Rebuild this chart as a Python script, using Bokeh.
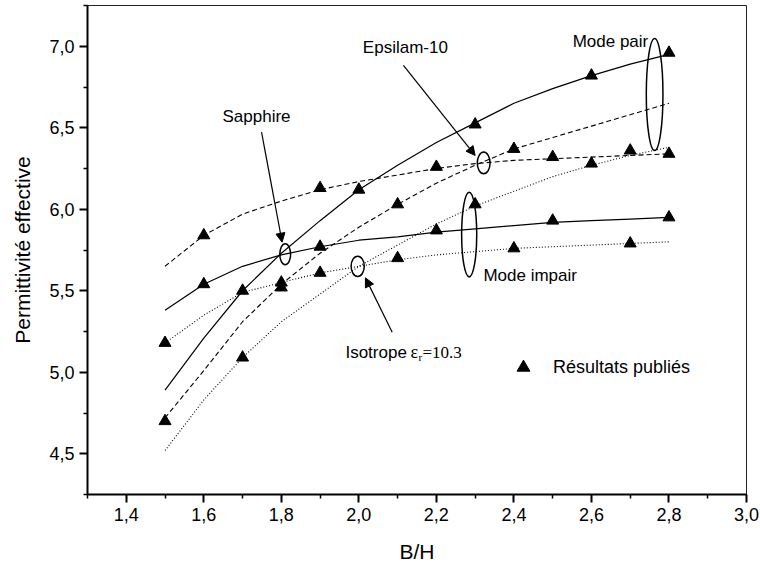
from bokeh.plotting import figure
from bokeh.models import (Range1d, FixedTicker, CustomJSTickFormatter, Arrow,
                          NormalHead, Label, Legend, LegendItem)
from bokeh.embed import file_html
from bokeh.resources import INLINE

# ---- data -------------------------------------------------------------
bh = [1.5, 1.6, 1.7, 1.8, 1.9, 2.0, 2.1, 2.2, 2.3, 2.4, 2.5, 2.6, 2.7, 2.8]

sapphire_pair = [4.89, 5.21, 5.50, 5.73, 5.93, 6.12, 6.27, 6.41, 6.53, 6.65, 6.74, 6.82, 6.89, 6.95]
sapphire_impair = [5.38, 5.54, 5.65, 5.72, 5.77, 5.81, 5.83, 5.86, 5.88, 5.90, 5.92, 5.93, 5.94, 5.95]
epsilam_pair = [4.72, 5.01, 5.31, 5.54, 5.73, 5.89, 6.03, 6.16, 6.27, 6.37, 6.44, 6.51, 6.58, 6.65]
epsilam_impair = [5.65, 5.84, 5.97, 6.05, 6.12, 6.17, 6.21, 6.25, 6.28, 6.30, 6.31, 6.32, 6.33, 6.34]
isotrope_pair = [4.52, 4.83, 5.09, 5.31, 5.48, 5.65, 5.78, 5.91, 6.02, 6.11, 6.20, 6.27, 6.33, 6.38]
isotrope_impair = [5.18, 5.35, 5.49, 5.55, 5.61, 5.65, 5.69, 5.72, 5.74, 5.76, 5.77, 5.78, 5.79, 5.80]

pub_bh = [1.5, 1.5, 1.6, 1.6, 1.7, 1.7, 1.8, 1.8, 1.9, 1.9, 1.9, 2.0, 2.1, 2.1, 2.2,
          2.2, 2.3, 2.3, 2.4, 2.4, 2.5, 2.5, 2.6, 2.6, 2.7, 2.7, 2.8, 2.8, 2.8]
pub_eps = [5.18, 4.70, 5.84, 5.54, 5.50, 5.09, 5.55, 5.52, 6.13, 5.77, 5.61, 6.12, 6.03, 5.70, 6.26,
           5.87, 6.52, 6.03, 6.37, 5.76, 6.32, 5.93, 6.82, 6.28, 6.36, 5.79, 6.96, 6.34, 5.95]

x_major = [1.4, 1.6, 1.8, 2.0, 2.2, 2.4, 2.6, 2.8, 3.0]
x_minor = [1.3, 1.5, 1.7, 1.9, 2.1, 2.3, 2.5, 2.7, 2.9]
y_major = [4.5, 5.0, 5.5, 6.0, 6.5, 7.0]
y_minor = [4.25, 4.75, 5.25, 5.75, 6.25, 6.75, 7.25]

FONT = "Liberation Sans"

# ---- figure -----------------------------------------------------------
p = figure(width=760, height=568, x_range=Range1d(1.3, 3.0), y_range=Range1d(4.25, 7.25),
           output_backend="svg", toolbar_location=None,
           min_border_left=87, min_border_right=14, min_border_top=5, min_border_bottom=74)
p.xgrid.visible = False
p.ygrid.visible = False
p.outline_line_color = "#222222"
p.outline_line_width = 1
p.background_fill_color = "white"
p.border_fill_color = "white"

fmt = CustomJSTickFormatter(code="return tick.toFixed(1).replace('.', ',');")
p.xaxis.ticker = FixedTicker(ticks=x_major, minor_ticks=x_minor)
p.yaxis.ticker = FixedTicker(ticks=y_major, minor_ticks=y_minor)
for ax in (p.xaxis, p.yaxis):
    ax.formatter = fmt
    ax.axis_line_width = 2
    ax.major_tick_line_width = 2
    ax.minor_tick_line_width = 1.5
    ax.major_tick_in = 0
    ax.minor_tick_in = 0
    ax.major_tick_out = 8
    ax.minor_tick_out = 4
    ax.major_label_text_font = FONT
    ax.major_label_text_font_size = "18px"
    ax.major_label_text_color = "black"
    ax.axis_label_text_font = FONT
    ax.axis_label_text_font_size = "21px"
    ax.axis_label_text_font_style = "normal"
    ax.axis_label_text_color = "black"
p.xaxis.axis_label = "B/H"
p.yaxis.axis_label = "Permittivité effective"
p.xaxis.major_label_standoff = 5
p.yaxis.major_label_standoff = 5
p.xaxis.axis_label_standoff = 16
p.yaxis.axis_label_standoff = 12

# ---- simulated curves -------------------------------------------------
solid = dict(line_color="black", line_width=1.2)
dashed = dict(line_color="black", line_width=1.1, line_dash="5 3")
dotted = dict(line_color="black", line_width=1.1, line_dash="1 2")

p.line(bh, sapphire_pair, **solid)
p.line(bh, sapphire_impair, **solid)
p.line(bh, epsilam_pair, **dashed)
p.line(bh, epsilam_impair, **dashed)
p.line(bh, isotrope_pair, **dotted)
p.line(bh, isotrope_impair, **dotted)

# ---- published results ------------------------------------------------
r_pub = p.scatter(pub_bh, pub_eps, marker="triangle", size=12,
                  fill_color="black", line_color="black")

legend = Legend(items=[LegendItem(label="Résultats publiés", renderers=[r_pub])],
                location=(420, 111), glyph_width=32, glyph_height=32, label_standoff=14,
                padding=0, margin=0, border_line_color=None, background_fill_alpha=0,
                label_text_font=FONT, label_text_font_size="18px", label_text_color="black")
p.add_layout(legend)

# ---- ellipses marking crossings and mode groups -----------------------
p.ellipse(x=[1.810, 2.322, 1.997, 2.763, 2.2846],
          y=[5.724, 6.284, 5.650, 6.704, 5.845],
          width=[0.028, 0.033, 0.034, 0.043, 0.039],
          height=[0.129, 0.133, 0.125, 0.687, 0.520],
          fill_color=None, line_color="black", line_width=1.5)

# ---- arrows -----------------------------------------------------------
for xs, ys, xe, ye in [(1.749, 6.473, 1.802, 5.798),
                       (2.115, 6.882, 2.300, 6.330),
                       (2.086, 5.246, 2.017, 5.579)]:
    p.add_layout(Arrow(x_start=xs, y_start=ys, x_end=xe, y_end=ye, line_width=1.2,
                       end=NormalHead(size=9, fill_color="black", line_color="black")))

# ---- text annotations -------------------------------------------------
def note(text, x, y, size="17px", font=FONT, align="center", baseline="middle", dx=0, dy=0):
    p.add_layout(Label(x=x, y=y, text=text, text_font=font, text_font_size=size,
                       text_align=align, text_baseline=baseline, x_offset=dx, y_offset=dy,
                       text_color="black"))

note("Sapphire", 1.736, 6.566)
note("Epsilam-10", 2.120, 6.992)
note("Mode pair", 2.649, 7.029)
note("Mode impair", 2.442, 5.594)

# Isotrope label with serif epsilon and subscript r
ix, iy = 1.9654, 5.123
note("Isotrope", ix, iy, align="left", baseline="alphabetic")
note("ε", ix, iy, size="18px", font="Liberation Serif", align="left", baseline="alphabetic", dx=65)
note("r", ix, iy, size="11px", font="Liberation Serif", align="left", baseline="alphabetic", dx=73, dy=-5)
note("=10.3", ix, iy, size="17px", font="Liberation Serif", align="left", baseline="alphabetic", dx=77)

open("out.html", "w").write(file_html(p, INLINE))
